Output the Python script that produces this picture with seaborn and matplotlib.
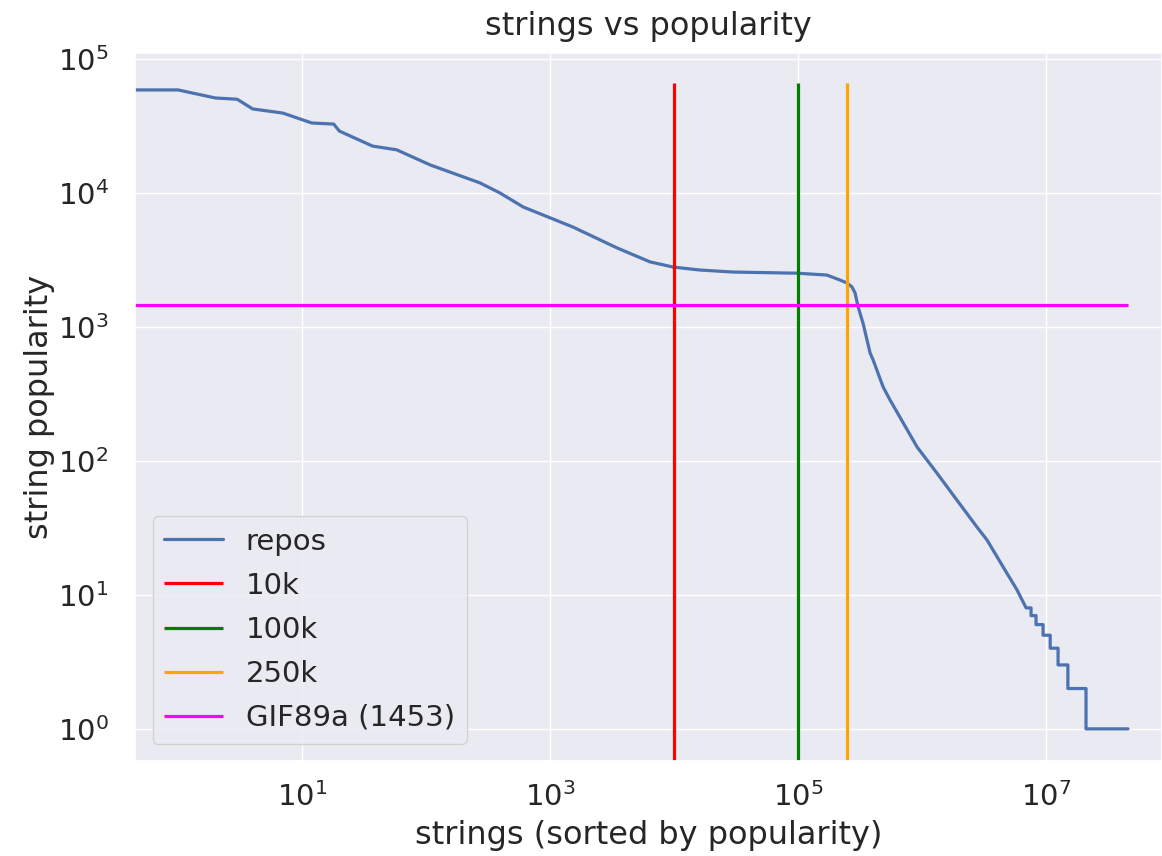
import numpy as np
import pandas as pd
import matplotlib
matplotlib.use("Agg")
import matplotlib.pyplot as plt
from matplotlib.ticker import FixedLocator, LogFormatterSciNotation
import seaborn as sns

# ---- data ----
rank = [0, 1, 2, 3, 4, 7, 12, 18, 20, 37, 58, 108, 272, 395, 606, 1530, 3470,
        6400, 9820, 16200, 29900, 75700, 98000, 171000, 218000, 248000, 272000,
        288000, 305000, 334000, 381000, 403000, 485000, 552000, 912000,
        1.32e6, 1.91e6, 2.78e6, 3.34e6, 4.50e6, 5.83e6, 6.90e6,
        7.57e6, 7.57e6, 8.30e6, 8.30e6, 9.46e6, 9.46e6, 1.08e7, 1.08e7,
        1.25e7, 1.25e7, 1.50e7, 1.50e7, 2.10e7, 2.10e7, 4.58e7]
popularity = [58800, 58800, 51200, 50100, 42400, 39500, 33300, 32700, 29000,
              22400, 21000, 16200, 11900, 10000, 7870, 5570, 3890, 3060, 2800,
              2660, 2570, 2530, 2520, 2440, 2240, 2130, 1990, 1800, 1410, 1070,
              640, 568, 357, 285, 127, 81, 51, 32, 25.7, 16.2, 10.9, 8,
              8, 7, 7, 6, 6, 5, 5, 4, 4, 3, 3, 2, 2, 1, 1]

cutoff_labels = ["10k", "100k", "250k"]
cutoff_values = [10000, 100000, 250000]
cutoff_colors = ["red", "green", "orange"]
vline_top = 66400

gif_label = "GIF89a (1453)"
gif_value = 1453
total_strings = 4.58e7

x_ticks = [1e1, 1e3, 1e5, 1e7]
y_ticks = [1e0, 1e1, 1e2, 1e3, 1e4, 1e5]

df = pd.DataFrame({"rank": rank, "popularity": popularity})

# ---- plot ----
sns.set_theme(style="darkgrid")
plt.rcParams["font.family"] = ["DejaVu Sans"]

fig = plt.figure(figsize=(11.62, 8.56), dpi=100)
ax = fig.add_axes([135 / 1162, (856 - 761) / 856, 1 - 135 / 1162, (761 - 53) / 856])

sns.lineplot(data=df, x="rank", y="popularity", estimator=None, sort=False,
             ax=ax, label="repos", linewidth=2.3, color="#4c72b0")

for lab, val, col in zip(cutoff_labels, cutoff_values, cutoff_colors):
    ax.vlines(val, 0, vline_top, colors=col, linewidth=2.3, label=lab)

ax.hlines(gif_value, 0, total_strings, colors="magenta", linewidth=2.3,
          label=gif_label)

ax.set_xscale("log")
ax.set_yscale("log")
ax.set_xlim(10 ** -0.347, 10 ** 7.935)
ax.set_ylim(10 ** -0.24, 10 ** 5.045)

ax.xaxis.set_major_locator(FixedLocator(x_ticks))
ax.xaxis.set_major_formatter(LogFormatterSciNotation())
ax.yaxis.set_major_locator(FixedLocator(y_ticks))
ax.yaxis.set_major_formatter(LogFormatterSciNotation())
ax.xaxis.set_minor_locator(FixedLocator([]))
ax.yaxis.set_minor_locator(FixedLocator([]))

ax.tick_params(axis="both", labelsize=21)
ax.tick_params(axis="x", pad=9)
ax.tick_params(axis="y", pad=13)
ax.set_title("strings vs popularity", fontsize=23, pad=13)
ax.set_xlabel("strings (sorted by popularity)", fontsize=23, labelpad=6)
ax.set_ylabel("string popularity", fontsize=23, labelpad=2)

ax.legend(loc="lower left", fontsize=21, handlelength=2.0,
          borderaxespad=0.6, labelspacing=0.55)

fig.savefig("out.png", dpi=100)
